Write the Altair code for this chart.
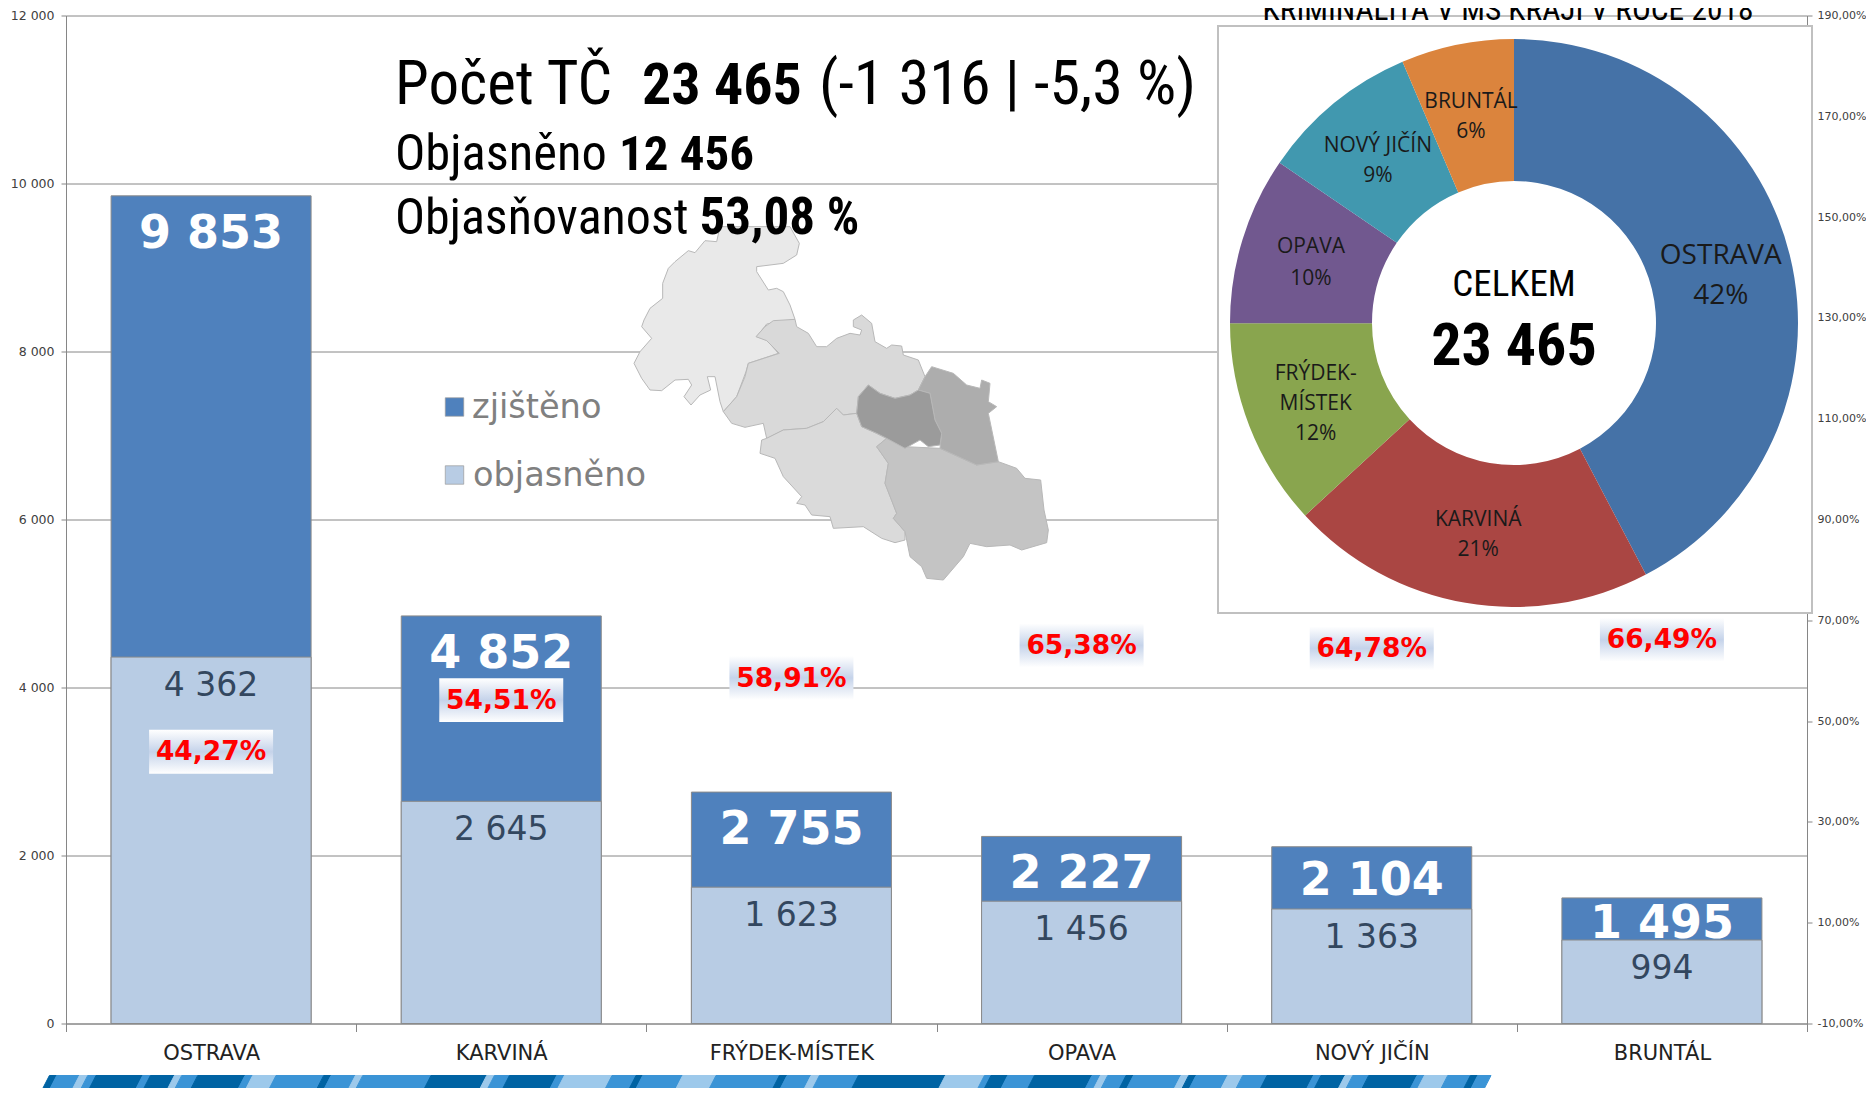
import altair as alt
import pandas as pd

# ---- data ----
categories = ["OSTRAVA", "KARVINÁ", "FRÝDEK-MÍSTEK", "OPAVA", "NOVÝ JIČÍN", "BRUNTÁL"]
zjisteno = [9853, 4852, 2755, 2227, 2104, 1495]
objasneno = [4362, 2645, 1623, 1456, 1363, 994]
objasnenost = [44.27, 54.51, 58.91, 65.38, 64.78, 66.49]
pie_colors = ["#4572a7", "#aa4643", "#89a54e", "#71588f", "#4198af", "#db843d"]

OX, OY = 66.0, 15.5   # plot origin on the page picture
W, H = 1741, 1008

def sp(n):
    return f"{n:,}".replace(",", " ")

df = pd.DataFrame({
    "cat": categories, "total": zjisteno, "clear": objasneno, "pct": objasnenost,
    "total_txt": [sp(v) for v in zjisteno], "clear_txt": [sp(v) for v in objasneno],
    "pct_txt": [f"{v:.2f}%".replace(".", ",") for v in objasnenost],
    "i": list(range(6)), "fill": pie_colors,
})
df["lo"] = df["pct"] - 4.7
df["hi"] = df["pct"] + 4.0

# decorative ribbon: where each band ends on the lower edge, and its colour
rib_start = 41.7
rib_ends = [49, 71.7, 80, 88.3, 135, 142.7, 166.7, 174, 190, 237.3, 245, 268.3, 316, 323.3, 347.7, 355, 423.3, 479, 486.7, 501.7,
            549, 556.7, 604.3, 628.3, 635, 675, 708.3, 771.7, 779.3, 803.3, 811.7, 850.7, 937.7, 976.7, 983.3, 1000,
            1026.7, 1084.3, 1092.7, 1100, 1118.3, 1125.7, 1173.3, 1181, 1188.3, 1220, 1235, 1259.3, 1305.7, 1313.3, 1337.3,
            1345, 1361, 1409.3, 1416.7, 1440, 1462.7, 1470, 1483.3]
rib_names = ("d m l m d m d l m d m l m d m l m d l m "
             "d m l m d m l m d m l m d l m d "
             "m d m l m d m l d m l m d m d l m d m l m d m").split()
rib_map = {"d": "#0063a3", "m": "#3b94d6", "l": "#9dc9eb"}

# district outlines (picture pixels, 3x, offset 620/220)
map_regions = [
    ("#e9e9e9", [(300,20),(290,65),(255,62),(225,98),(205,92),(165,125),(145,145),(128,190),(128,235),(90,265),(72,300),(65,320),(95,355),(60,395),(42,430),(65,475),(90,510),(125,512),(165,480),(205,478),(215,495),(192,530),(213,555),(240,525),(272,510),(262,470),(285,470),(300,545),(310,575),(350,530),(378,455),(385,430),(475,400),(440,360),(410,350),(440,312),(525,298),(510,255),(490,215),(470,205),(445,210),(410,155),(410,140),(490,130),(530,105),(538,70),(510,20)]),
    ("#d9d9d9", [(310,575),(335,610),(375,622),(430,610),(440,655),(490,630),(560,625),(610,605),(650,565),(670,585),(710,580),(715,530),(745,495),(780,520),(825,535),(870,525),(895,510),(915,470),(895,420),(850,405),(845,378),(815,375),(800,385),(765,365),(755,310),(725,285),(700,300),(700,320),(725,330),(720,345),(690,340),(650,355),(620,380),(590,380),(565,340),(530,320),(525,298),(460,302),(435,320),(408,350),(440,362),(478,400),(385,430),(375,470),(350,530)]),
    ("#dadada", [(440,655),(490,630),(560,625),(610,605),(650,565),(670,585),(710,580),(725,620),(770,640),(800,655),(770,680),(805,730),(795,790),(830,880),(820,895),(855,935),(855,960),(825,968),(785,955),(730,920),(640,925),(630,890),(575,885),(555,855),(530,850),(545,830),(490,770),(465,715),(420,700),(425,660)]),
    ("#c4c4c4", [(800,655),(855,680),(960,685),(1070,735),(1135,725),(1190,745),(1215,775),(1262,780),(1272,870),(1285,930),(1280,968),(1205,990),(1170,975),(1100,980),(1050,970),(1030,1010),(970,1080),(920,1075),(905,1040),(870,1010),(855,935),(820,895),(830,880),(795,790),(805,730),(770,680)]),
    ("#adadad", [(935,440),(1000,460),(1040,495),(1080,505),(1085,480),(1110,490),(1105,545),(1130,560),(1105,580),(1135,725),(1070,735),(960,685),(965,640),(945,600),(930,520),(895,510),(915,470)]),
    ("#9b9b9b", [(745,495),(780,520),(825,535),(870,525),(895,510),(930,520),(945,600),(965,640),(960,675),(925,680),(900,660),(855,685),(800,655),(770,640),(725,620),(710,580),(715,530)]),
]

def feature(points, fill, stroke):
    ring = [[x - OX, y - OY] for x, y in points]
    ring.append(ring[0])
    return {"type": "Feature", "properties": {"fill": fill, "stroke": stroke},
            "geometry": {"type": "Polygon", "coordinates": [ring]}}

map_feats = [feature([(620 + x / 3, 220 + y / 3) for x, y in pts], c, "#b8b8b8") for c, pts in map_regions]
rib_feats = []
for a, b, n in zip([rib_start] + rib_ends[:-1], rib_ends, rib_names):
    rib_feats.append(feature([(a, 1090.5), (b, 1090.5), (b + 7.7, 1075.5), (a + 7.7, 1075.5)], rib_map[n], rib_map[n]))

geo_data = alt.InlineData(values={"type": "FeatureCollection", "features": map_feats + rib_feats},
                          format=alt.DataFormat(type="json", property="features"))
geo = alt.Chart(geo_data).mark_geoshape(strokeWidth=1, clip=False).encode(
    fill=alt.Fill("properties.fill:N", scale=None),
    stroke=alt.Stroke("properties.stroke:N", scale=None),
).project(type="identity", scale=1, translate=[0, 0])

NARROW = "Roboto Condensed"
WIDE = "DejaVu Sans"
CAL = "Open Sans"

def note(text, x, y, size, font=NARROW, weight="normal", color="#000000", align="left", baseline="alphabetic"):
    return alt.Chart(alt.Data(values=[{"t": text}])).mark_text(
        font=font, fontSize=size, fontWeight=weight, color=color, align=align, baseline=baseline
    ).encode(text="t:N", x=alt.value(x - OX), y=alt.value(y - OY))

def pnote(text, x, y, size=21):
    return note(text, x * 1.195, y * 1.195 + 2.5, size, font=CAL, color="#1a1a1a", align="center", baseline="middle")

base = alt.Chart(df)
x_enc = alt.X("cat:N", scale=alt.Scale(domain=categories, paddingInner=0, paddingOuter=0), title=None,
              axis=alt.Axis(labelAngle=0, tickBand="extent", tickSize=8, tickColor="#868686", domainColor="#868686",
                            labelFont=WIDE, labelFontSize=21, labelColor="#222222", labelPadding=11, grid=False))
y_scale = alt.Scale(domain=[0, 12000], nice=False)
y_none = alt.Y("total:Q", scale=y_scale, axis=None)
GRAY = "#868686"

bars_dark = base.mark_bar(size=200, color="#4f81bd", stroke="#8a8a8a", strokeWidth=1).encode(
    x=x_enc,
    y=alt.Y("total:Q", scale=y_scale, title=None,
            axis=alt.Axis(values=list(range(0, 12001, 2000)), grid=True, gridColor=GRAY, gridOpacity=1, gridWidth=1,
                          domainColor=GRAY, tickColor=GRAY, tickSize=5, labelPadding=7,
                          labelFont=WIDE, labelFontSize=12.5, labelColor="#404040",
                          labelExpr="replace(format(datum.value, ','), ',', ' ')")),
)
bars_light = base.mark_bar(size=200, color="#b8cce4", stroke="#8a8a8a", strokeWidth=1).encode(
    x=x_enc, y=alt.Y("clear:Q", scale=y_scale, axis=None))

clear_txt = base.mark_text(font=WIDE, fontSize=33, color="#33475f", dy=29, baseline="middle").encode(
    x=x_enc, y=alt.Y("clear:Q", scale=y_scale, axis=None), text="clear_txt:N")

def total_labels(names, dy):
    return base.transform_filter(alt.FieldOneOfPredicate(field="cat", oneOf=names)).mark_text(
        font=WIDE, fontSize=46, fontWeight="bold", color="white", dy=dy, baseline="middle"
    ).encode(x=x_enc, y=y_none, text="total_txt:N")

labels_big = total_labels(categories[:4], 38)
labels_mid = total_labels([categories[4]], 34)
labels_small = total_labels([categories[5]], 26)

p_scale = alt.Scale(domain=[-10, 190], nice=False)
grad = alt.Gradient(gradient="linear", x1=0, x2=0, y1=0, y2=1, stops=[
    alt.GradientStop(color="#ffffff", offset=0), alt.GradientStop(color="#c5d3ea", offset=0.5),
    alt.GradientStop(color="#ffffff", offset=1)])
pct_box = base.mark_bar(size=124, fill=grad, stroke=None).encode(
    x=x_enc, y=alt.Y("lo:Q", scale=p_scale, axis=None), y2="hi:Q")
pct_txt = base.mark_text(font=WIDE, fontSize=26.5, fontWeight="bold", color="#ff0000", baseline="middle", dy=2.5).encode(
    x=x_enc,
    y=alt.Y("pct:Q", scale=p_scale, title=None,
            axis=alt.Axis(orient="right", values=list(range(-10, 191, 20)), grid=False, domainColor=GRAY, tickColor=GRAY,
                          tickSize=5, labelPadding=5, labelFont=WIDE, labelFontSize=11, labelColor="#404040",
                          labelExpr="replace(replace(format(datum.value, '.2f'), '.', ','), '−', '-') + '%'")),
    text="pct_txt:N")

pie_box = alt.Chart(alt.Data(values=[{"a": 1}])).mark_rect(fill="white", stroke="#c0c0c0", strokeWidth=2).encode(
    x=alt.value(1218 - OX), x2=alt.value(1812 - OX), y=alt.value(26 - OY), y2=alt.value(613 - OY))

pie = base.mark_arc(outerRadius=284, innerRadius=142).encode(
    theta=alt.Theta("total:Q", stack=True),
    order=alt.Order("i:Q"),
    fill=alt.Fill("fill:N", scale=None),
    x=alt.value(1514 - OX), y=alt.value(323 - OY),
)

legend_sq = [
    alt.Chart(alt.Data(values=[{"a": 1}])).mark_point(shape="square", filled=True, size=340, color=c, stroke="#9a9a9a",
                                                      strokeWidth=0.7, opacity=1).encode(
        x=alt.value(454.5 - OX), y=alt.value(yy - OY))
    for c, yy in [("#4f81bd", 407), ("#b8cce4", 475)]
]

texts = [
    note("KRIMINALITA V MS KRAJI V ROCE 2018", 1508, 20, 31.4, align="center"),
    note("Počet TČ", 395, 104, 61),
    note("23 465", 642, 104, 58, weight="bold"),
    note("(-1 316 | -5,3 %)", 819, 104, 62),
    note("Objasněno", 395, 170, 50.5),
    note("12 456", 619, 170, 49, weight="bold"),
    note("Objasňovanost", 395, 234, 50),
    note("53,08 %", 699.5, 234, 51, weight="bold"),
    note("zjištěno", 472, 418, 33.6, font=WIDE, color="#808080"),
    note("objasněno", 473, 486, 33.6, font=WIDE, color="#808080"),
    note("CELKEM", 1514, 285, 37, align="center", baseline="middle"),
    note("23 465", 1514, 347, 60, weight="bold", align="center", baseline="middle"),
    pnote("OSTRAVA", 1440, 212, 28), pnote("42%", 1440, 246, 28),
    pnote("KARVINÁ", 1237, 433), pnote("21%", 1237, 458),
    pnote("FRÝDEK-", 1101, 311), pnote("MÍSTEK", 1101, 336), pnote("12%", 1101, 361),
    pnote("OPAVA", 1097, 205), pnote("10%", 1097, 231),
    pnote("NOVÝ JIČÍN", 1153, 120), pnote("9%", 1153, 145),
    pnote("BRUNTÁL", 1231, 83), pnote("6%", 1231, 108),
]

chart = alt.layer(
    bars_dark, bars_light, clear_txt, labels_big, labels_mid, labels_small, pct_box, pct_txt,
    pie_box, pie, geo, *legend_sq, *texts,
).resolve_scale(y="independent").properties(
    width=W, height=H,
    padding={"left": OX - 8, "top": OY - 8, "right": 1858 - (OX - 8) - W, "bottom": 1080 - (OY - 8) - H},
    autosize=alt.AutoSizeParams(type="none"),
    background="white",
).configure_view(stroke=None)

chart.save("out.html", embed_options={"renderer": "svg", "actions": False})
